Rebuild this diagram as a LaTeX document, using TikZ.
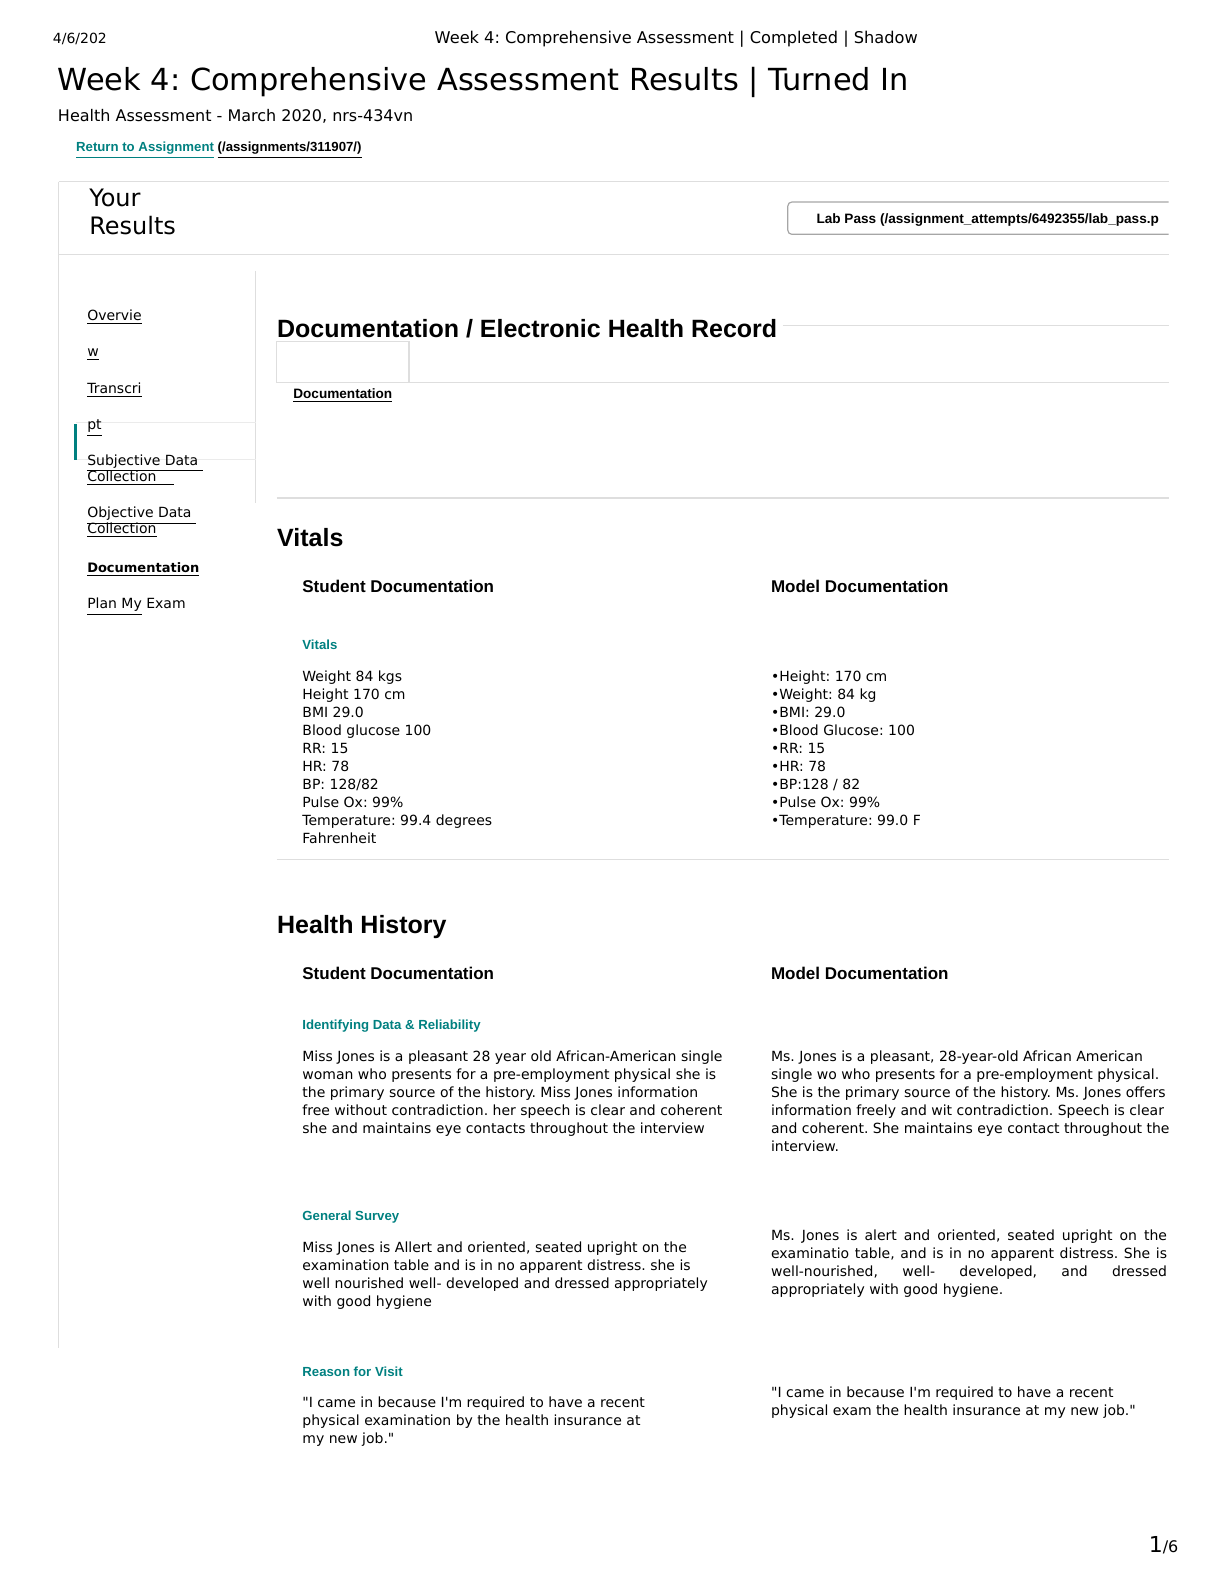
\documentclass[tikz,border=0pt]{standalone}
\usepackage{fontspec}
\setmainfont{DejaVu Sans}[Ligatures=ResetAll]
\newfontfamily\ar{Liberation Sans}
\definecolor{teal}{RGB}{0,128,128}
\definecolor{lg}{RGB}{222,222,222}
\newcount\nn
\newcommand{\T}[4][]{\global\advance\nn by 1 \node[txt,#1] (n\the\nn) at (#2,#3) {#4};}
\newcommand{\qq}{\textquotedbl}
\newcommand{\ap}{\textquotesingle}
\frenchspacing
\tikzset{txt/.style={anchor=mid west,inner sep=0pt,font=\fontsize{7bp}{9bp}\selectfont},
 big/.style={font=\fontsize{15.2bp}{18bp}\selectfont},
 hd/.style={font=\ar\bfseries\fontsize{12.5bp}{14bp}\selectfont},
 sh/.style={font=\ar\bfseries\fontsize{8.5bp}{10bp}\selectfont},
 tl/.style={font=\ar\bfseries\fontsize{6.6bp}{8bp}\selectfont,text=teal},
 rule/.style={draw=lg,line width=0.6bp}}
\begin{document}
\begin{tikzpicture}[x=0.5bp,y=-0.5bp]
\useasboundingbox (0,0) rectangle (1224,1584);
\begin{scope}[x=0.505bp,y=-0.505bp]
% frame lines
\draw[rule] (58,180) -- (1157,180);
\draw[rule] (58,180) -- (58,1335);
\draw[rule] (58,252) -- (1157,252);
\draw[rule] (253,268) -- (253,498);
\draw[draw=lg!60,line width=0.5bp] (75,418) -- (253,418) (75,455) -- (253,455);
\draw[teal,line width=1.5bp] (75,420) -- (75,455);
\draw[rule] (775,322) -- (1157,322);
\draw[rule] (274,379) -- (1157,379);
\draw[rule] (274,338) rectangle (405,379);
\draw[rule] (274,493) -- (1157,493);
\draw[rule] (274,851) -- (1157,851);
\draw[draw=gray!70,rounded corners=2bp,line width=0.6bp] (1157,200) -- (780,200) -- (780,232) -- (1157,232);
% header
\T{52}{38}{4/6/202}
\T{430}{38}{\fontsize{8.1bp}{10bp}\selectfont Week 4: Comprehensive Assessment | Completed | Shadow}
\T[big]{57}{84}{Week 4: Comprehensive Assessment Results | Turned In}
\T{57}{115}{\fontsize{8bp}{10bp}\selectfont Health Assessment - March 2020, nrs-434vn}
\T[font=\ar\bfseries\fontsize{6.6bp}{8bp}\selectfont]{75}{145}{\textcolor{teal}{\underline{Return to Assignment}} \underline{(/assignments/311907/)}}
\T[font=\fontsize{12bp}{14bp}\selectfont]{88}{199}{Your}
\T[font=\fontsize{12bp}{14bp}\selectfont]{88}{227}{Results}
\T[font=\ar\bfseries\fontsize{6.8bp}{8bp}\selectfont]{808}{216}{Lab Pass (/assignment\_attempts/6492355/lab\_pass.p}
% sidebar
\T{86}{312}{\underline{Overvie}}
\T{86}{348}{\underline{w}}
\T{86}{384}{\underline{Transcri}}
\T{86}{420}{\underline{pt}}
\T{86}{455}{\underline{Subjective Data\ }}
\T{86}{471}{\underline{Collection\ \ \ \ }}
\T{86}{507}{\underline{Objective Data\ }}
\T{86}{523}{\underline{Collection}}
\T[font=\bfseries\fontsize{6.5bp}{8bp}\selectfont]{86}{561}{\underline{Documentation}}
\T{86}{597}{\underline{Plan My} Exam}
% main
\T[hd]{274}{329}{Documentation / Electronic Health Record}
\T[font=\ar\bfseries\fontsize{6.8bp}{8bp}\selectfont]{290}{389}{\underline{Documentation}}
\T[hd]{274}{536}{Vitals}
\T[sh]{299}{581}{Student Documentation}
\T[sh]{763}{581}{Model Documentation}
\T[tl]{299}{638}{Vitals}
\T[anchor=north west]{299}{662}{\begin{tabular}{@{}l@{}}Weight 84 kgs\\Height 170 cm\\BMI 29.0\\Blood glucose 100\\RR: 15\\HR: 78\\BP: 128/82\\Pulse Ox: 99\%\\Temperature: 99.4 degrees\\Fahrenheit\end{tabular}}
\T[anchor=north west]{763}{662}{\begin{tabular}{@{}l@{}}•Height: 170 cm\\•Weight: 84 kg\\•BMI: 29.0\\•Blood Glucose: 100\\•RR: 15\\•HR: 78\\•BP:128 / 82\\•Pulse Ox: 99\%\\•Temperature: 99.0 F\end{tabular}}
\T[hd]{274}{919}{Health History}
\T[sh]{299}{964}{Student Documentation}
\T[sh]{763}{964}{Model Documentation}
\T[tl]{299}{1014}{Identifying Data \& Reliability}
\T[anchor=north west]{299}{1038}{\begin{tabular}{@{}l@{}}Miss Jones is a pleasant 28 year old African-American single\\woman who presents for a pre-employment physical she is\\the primary source of the history. Miss Jones information\\free without contradiction. her speech is clear and coherent\\she and maintains eye contacts throughout the interview\end{tabular}}
\T[anchor=north west]{763}{1038}{\begin{tabular}{@{}l@{}}Ms. Jones is a pleasant, 28-year-old African American\\single wo who presents for a pre-employment physical.\\She is the primary source of the history. Ms. Jones offers\\information freely and wit contradiction. Speech is clear\\and coherent. She maintains eye contact throughout the\\interview.\end{tabular}}
\T[tl]{299}{1203}{General Survey}
\T[anchor=north west]{299}{1227}{\begin{tabular}{@{}l@{}}Miss Jones is Allert and oriented, seated upright on the\\examination table and is in no apparent distress. she is\\well nourished well- developed and dressed appropriately\\with good hygiene\end{tabular}}
\T[anchor=north west,text width=198bp,align=justify]{763}{1217}{Ms. Jones is alert and oriented, seated upright on the\linebreak examinatio table, and is in no apparent distress. She is\linebreak well-nourished, well- developed, and dressed\linebreak appropriately with good hygiene.}
\T[tl]{299}{1357}{Reason for Visit}
\T[anchor=north west]{299}{1381}{\begin{tabular}{@{}l@{}}\qq I came in because I\ap m required to have a recent\\physical examination by the health insurance at\\my new job.\qq\end{tabular}}
\T[anchor=north west]{763}{1371}{\begin{tabular}{@{}l@{}}\qq I came in because I\ap m required to have a recent\\physical exam the health insurance at my new job.\qq\end{tabular}}
\T[font=\fontsize{11bp}{12bp}\selectfont]{1137}{1532}{1\fontsize{8bp}{10bp}\selectfont/6}
\end{scope}
\end{tikzpicture}
\end{document}
